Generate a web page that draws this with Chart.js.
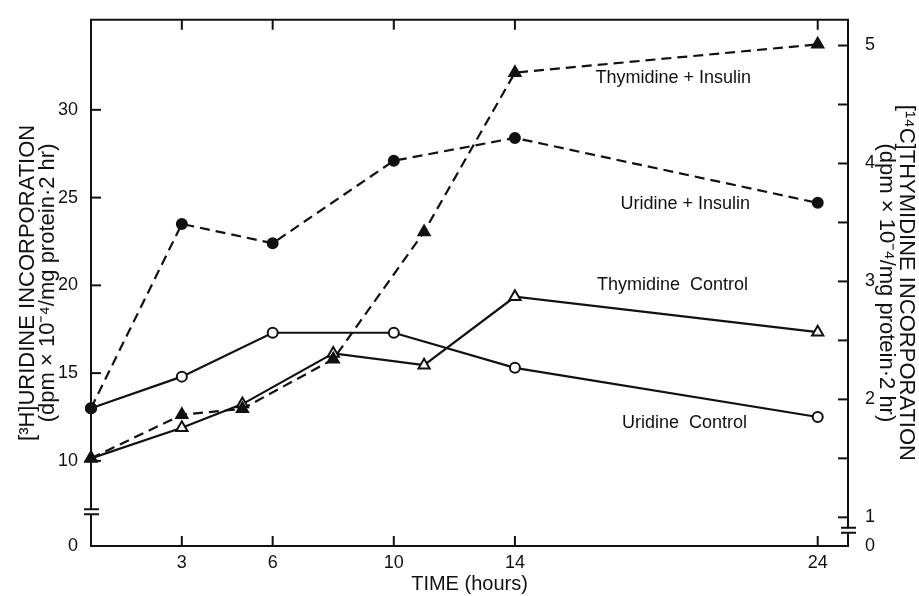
<!DOCTYPE html>
<html>
<head>
<meta charset="utf-8">
<script src="https://cdn.jsdelivr.net/npm/chart.js@4"></script>
<style>
  html, body { margin: 0; padding: 0; background: #fff; }
  canvas { display: block; }
</style>
</head>
<body>
<canvas id="grafico" width="919" height="596"></canvas>
<script>
// Datos
const HORAS_URIDINA = [0, 3, 6, 10, 14, 24];
const URIDINA_CONTROL = [13.0, 14.8, 17.3, 17.3, 15.3, 12.5];
const URIDINA_INSULINA = [13.0, 23.5, 22.4, 27.1, 28.4, 24.7];

const HORAS_TIMIDINA = [0, 3, 5, 8, 11, 14, 24];
const TIMIDINA_CONTROL = [1.5, 1.76, 1.96, 2.39, 2.29, 2.87, 2.57];
const TIMIDINA_INSULINA = [1.5, 1.87, 1.92, 2.34, 3.42, 4.77, 5.01];

// Marcas de los ejes
const TICKS_TIEMPO = [3, 6, 10, 14, 24];
const TICKS_URIDINA = [10, 15, 20, 25, 30];
const TICKS_TIMIDINA = [1, 1.5, 2, 2.5, 3, 3.5, 4, 4.5, 5];

// Etiquetas de las series
const ETIQUETAS = ['Thymidine + Insulin', 'Uridine + Insulin', 'Thymidine  Control', 'Uridine  Control'];

// Límites de los ejes (el valor mínimo se rotula "0" por el corte del eje)
const URIDINA_MIN = 5.15, URIDINA_MAX = 35.13;
const TIMIDINA_MIN = 0.757, TIMIDINA_MAX = 5.218;

const FUENTE = '"Liberation Sans", Arial, sans-serif';
const NEGRO = '#111';

const puntos = (xs, ys) => xs.map((x, i) => ({ x: x, y: ys[i] }));

// Complemento para marcas interiores, borde superior, cortes y rótulos
const extras = {
    id: 'extras',
    afterDraw(chart) {
        const { ctx, chartArea: area, scales } = chart;
        const x = scales.x, y = scales.y, y1 = scales.y1;
        ctx.save();
        ctx.strokeStyle = NEGRO;
        ctx.lineWidth = 2;
        // Borde superior
        ctx.beginPath();
        ctx.moveTo(area.left - 1, area.top);
        ctx.lineTo(area.right + 1, area.top);
        ctx.stroke();
        // Marcas del eje x (abajo y arriba)
        TICKS_TIEMPO.forEach(v => {
            const px = x.getPixelForValue(v);
            ctx.beginPath();
            ctx.moveTo(px, area.bottom);
            ctx.lineTo(px, area.bottom - 10);
            ctx.moveTo(px, area.top);
            ctx.lineTo(px, area.top + 10);
            ctx.stroke();
        });
        // Marcas del eje izquierdo
        TICKS_URIDINA.forEach(v => {
            const py = y.getPixelForValue(v);
            ctx.beginPath();
            ctx.moveTo(area.left, py);
            ctx.lineTo(area.left + 10, py);
            ctx.stroke();
        });
        // Marcas del eje derecho
        TICKS_TIMIDINA.forEach(v => {
            const py = y1.getPixelForValue(v);
            ctx.beginPath();
            ctx.moveTo(area.right, py);
            ctx.lineTo(area.right - 10, py);
            ctx.stroke();
        });
        // Cortes de los ejes
        const corte = (cx, cy) => {
            ctx.fillStyle = '#fff';
            ctx.fillRect(cx - 2, cy - 2, 4, 5);
            ctx.beginPath();
            ctx.moveTo(cx - 7, cy - 2.5);
            ctx.lineTo(cx + 8, cy - 2.5);
            ctx.moveTo(cx - 7, cy + 2.5);
            ctx.lineTo(cx + 8, cy + 2.5);
            ctx.stroke();
        };
        corte(area.left, y.getPixelForValue(7.1));
        corte(area.right, y1.getPixelForValue(0.89));
        // Rótulos de las series
        ctx.fillStyle = NEGRO;
        ctx.font = '18px ' + FUENTE;
        ctx.textAlign = 'right';
        ctx.textBaseline = 'middle';
        ctx.fillText(ETIQUETAS[0], 751, 78);
        ctx.fillText(ETIQUETAS[1], 750, 204);
        ctx.fillText(ETIQUETAS[2], 748, 285);
        ctx.fillText(ETIQUETAS[3], 747, 423);
        ctx.restore();
    }
};

const serie = (datos, eje, discontinua, estilo, relleno, radio) => ({
    data: datos,
    yAxisID: eje,
    borderColor: NEGRO,
    borderWidth: 2.2,
    borderDash: discontinua ? [10, 6] : [],
    pointStyle: estilo,
    pointRadius: radio,
    pointBorderWidth: 2,
    pointBorderColor: NEGRO,
    pointBackgroundColor: relleno ? NEGRO : '#fff',
    fill: false,
    tension: 0,
    clip: false
});

const grafico = new Chart(document.getElementById('grafico'), {
    type: 'line',
    data: {
        datasets: [
            serie(puntos(HORAS_URIDINA, URIDINA_INSULINA), 'y', true, 'circle', true, 5),
            serie(puntos(HORAS_TIMIDINA, TIMIDINA_INSULINA), 'y1', true, 'triangle', true, 6.5),
            serie(puntos(HORAS_URIDINA, URIDINA_CONTROL), 'y', false, 'circle', false, 5),
            serie(puntos(HORAS_TIMIDINA, TIMIDINA_CONTROL), 'y1', false, 'triangle', false, 6.5)
        ]
    },
    options: {
        responsive: false,
        animation: false,
        layout: { padding: { top: 14, left: 0, right: 0, bottom: 0 } },
        plugins: { legend: { display: false }, tooltip: { enabled: false } },
        scales: {
            x: {
                type: 'linear',
                min: 0,
                max: 25,
                grid: { display: false },
                border: { display: true, color: NEGRO, width: 2 },
                afterBuildTicks: s => { s.ticks = TICKS_TIEMPO.map(v => ({ value: v })); },
                afterFit: s => { s.height = 50; },
                ticks: { autoSkip: false, maxRotation: 0, padding: -2, color: NEGRO, font: { family: FUENTE, size: 18 } },
                title: { display: true, text: 'TIME (hours)', color: NEGRO, padding: { top: 0, bottom: 1 }, font: { family: FUENTE, size: 20, lineHeight: 1.05 } }
            },
            y: {
                type: 'linear',
                position: 'left',
                min: URIDINA_MIN,
                max: URIDINA_MAX,
                grid: { display: false },
                border: { display: true, color: NEGRO, width: 2 },
                afterBuildTicks: s => { s.ticks = [URIDINA_MIN].concat(TICKS_URIDINA).map(v => ({ value: v })); },
                afterFit: s => { s.width = 91; },
                ticks: {
                    padding: 5,
                    color: NEGRO,
                    font: { family: FUENTE, size: 18 },
                    callback: v => v === URIDINA_MIN ? '0' : v
                },
                title: {
                    display: true,
                    text: ['[³H]URIDINE INCORPORATION', '(dpm × 10⁻⁴/mg protein·2 hr)'],
                    color: NEGRO,
                    padding: { top: 17, bottom: 0 },
                    font: { family: FUENTE, size: 22, lineHeight: 0.95 }
                }
            },
            y1: {
                type: 'linear',
                position: 'right',
                min: TIMIDINA_MIN,
                max: TIMIDINA_MAX,
                grid: { display: false },
                border: { display: true, color: NEGRO, width: 2 },
                afterBuildTicks: s => { s.ticks = [TIMIDINA_MIN].concat(TICKS_TIMIDINA).map(v => ({ value: v })); },
                afterFit: s => { s.width = 71; },
                ticks: {
                    padding: 9,
                    color: NEGRO,
                    font: { family: FUENTE, size: 18 },
                    callback: v => v === TIMIDINA_MIN ? '0' : (Number.isInteger(v) ? v : '')
                },
                title: {
                    display: true,
                    text: ['[¹⁴C]THYMIDINE INCORPORATION', '(dpm × 10⁻⁴/mg protein·2 hr)'],
                    color: NEGRO,
                    padding: { top: 2, bottom: 0 },
                    font: { family: FUENTE, size: 22, lineHeight: 0.95 }
                }
            }
        }
    },
    plugins: [extras]
});
</script>
</body>
</html>
